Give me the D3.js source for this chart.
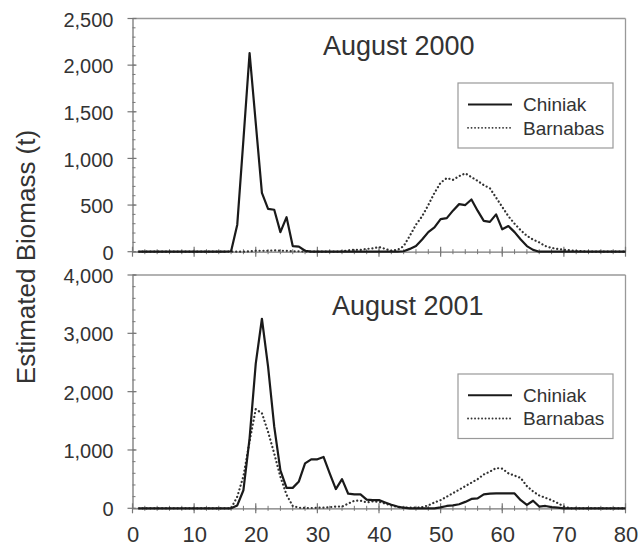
<!DOCTYPE html>
<html><head><meta charset="utf-8">
<script src="https://cdnjs.cloudflare.com/ajax/libs/d3/7.8.5/d3.min.js"></script>
<style>body{margin:0;background:#fff}svg{display:block}text{font-family:"Liberation Sans",Arial,sans-serif;fill:#333}</style>
</head><body><svg id="c" width="638" height="548"></svg>
<script>
// x positions (cm) 1..80
const lengths = d3.range(1, 81);
const xTicks = [0,10,20,30,40,50,60,70,80];
const topYTicks = [0,500,1000,1500,2000,2500];
const botYTicks = [0,1000,2000,3000,4000];
const seriesNames = ["Chiniak","Barnabas"];
const titles = ["August 2000","August 2001"];

const chiniak2000 = [0,0,0,0,0,0,0,0,0,0, 0,0,0,0,0,5,290,1200,2130,1380,
  630,460,450,210,370,60,55,10,0,0, 0,0,0,0,0,0,0,0,0,0,
  0,0,0,5,30,60,130,210,260,350, 360,440,510,500,560,440,330,320,400,240,
  275,210,130,60,20,0,0,0,0,0, 0,0,0,0,0,0,0,0,0,0];
const barnabas2000 = [0,0,0,0,0,0,0,0,0,0, 0,0,0,0,0,0,0,0,5,10,
  10,10,15,10,10,5,5,0,0,0, 0,0,0,5,15,20,20,30,35,50,
  30,10,20,60,170,290,380,500,630,740, 790,770,810,840,800,760,714,680,580,480,
  380,300,230,170,130,100,60,40,30,20, 15,10,5,0,0,0,0,0,0,0];
const chiniak2001 = [0,0,0,0,0,0,0,0,0,0, 0,0,0,0,0,0,50,310,1200,2480,
  3250,2430,1400,650,350,350,460,770,840,840, 880,600,330,500,250,240,240,150,140,140,
  100,60,30,10,0,0,0,0,0,15, 40,50,70,110,160,170,240,250,255,255,
  255,255,140,60,130,30,40,20,10,0, 0,0,0,0,0,0,0,0,0,0];
const barnabas2001 = [0,0,0,0,0,0,0,0,0,0, 0,0,0,0,0,0,200,550,1150,1700,
  1630,1310,940,540,230,40,10,5,5,10, 10,20,30,30,80,130,130,100,120,110,
  80,50,20,10,10,10,20,50,100,140, 200,260,320,380,440,500,580,630,690,680,
  600,560,520,380,290,220,180,140,90,30, 0,0,0,0,0,0,0,0,0,0];

const svg = d3.select("#c");
const x = d3.scaleLinear().domain([0,80]).range([132.5, 625.5]);
const panels = [
  {y: d3.scaleLinear().domain([0,2500]).range([251.7,18.5]), ticks: topYTicks, minor: d3.range(0,2501,100),
   data:[chiniak2000, barnabas2000], title: titles[0], tx:323, ty:55, leg:{y0:83,y1:148}, labels:false},
  {y: d3.scaleLinear().domain([0,4000]).range([508.3,275]), ticks: botYTicks, minor: d3.range(0,4001,200),
   data:[chiniak2001, barnabas2001], title: titles[1], tx:332, ty:315, leg:{y0:374,y1:438.5}, labels:true}
];
const fmt = d3.format(",");
const axisCol = "#777", frameCol = "#999";

panels.forEach(p => {
  const g = svg.append("g");
  const [yb, yt] = p.y.range();
  // frame top & right
  g.append("line").attr("x1",x(0)).attr("x2",x(80)).attr("y1",yt).attr("y2",yt).attr("stroke",frameCol).attr("stroke-width",1.3);
  g.append("line").attr("x1",x(80)).attr("x2",x(80)).attr("y1",yt).attr("y2",yb).attr("stroke",frameCol).attr("stroke-width",1.3);
  // y axis
  const ya = d3.axisLeft(p.y).tickValues(p.ticks).tickFormat(fmt).tickSize(0).tickPadding(19);
  const yg = g.append("g").attr("transform",`translate(${x(0)},0)`).call(ya);
  yg.select(".domain").attr("stroke",axisCol).attr("stroke-width",1.3);
  yg.selectAll("text").attr("font-size",20).attr("fill","#333").attr("dy","0.38em");
  g.selectAll(".ymaj").data(p.ticks).enter().append("line")
    .attr("x1",x(0)-5).attr("x2",x(0)+4).attr("y1",d=>p.y(d)).attr("y2",d=>p.y(d)).attr("stroke",axisCol).attr("stroke-width",1.2);
  g.selectAll(".ymin").data(p.minor).enter().append("line")
    .attr("x1",x(0)).attr("x2",x(0)+3).attr("y1",d=>p.y(d)).attr("y2",d=>p.y(d)).attr("stroke",axisCol).attr("stroke-width",1);
  // x axis
  const xa = d3.axisBottom(x).tickValues(xTicks).tickSize(0).tickPadding(18).tickFormat(p.labels ? d3.format("d") : () => "");
  const xg = g.append("g").attr("transform",`translate(0,${yb})`).call(xa);
  xg.select(".domain").attr("stroke",axisCol).attr("stroke-width",1.3);
  xg.selectAll("text").attr("font-size",22).attr("fill","#333");
  g.selectAll(".xmaj").data(xTicks).enter().append("line")
    .attr("x1",d=>x(d)).attr("x2",d=>x(d)).attr("y1",yb-5).attr("y2",yb+5).attr("stroke",axisCol).attr("stroke-width",1.2);
  g.selectAll(".xmin").data(d3.range(0,81,2)).enter().append("line")
    .attr("x1",d=>x(d)).attr("x2",d=>x(d)).attr("y1",yb-2.5).attr("y2",yb+2.5).attr("stroke",axisCol).attr("stroke-width",1);
  // lines
  const line = d3.line().x((d,i)=>x(lengths[i])).y(d=>p.y(d));
  g.append("path").datum(p.data[1]).attr("d",line).attr("fill","none").attr("stroke","#333")
    .attr("stroke-width",2.2).attr("stroke-dasharray","0.1,3.8").attr("stroke-linecap","round");
  g.append("path").datum(p.data[0]).attr("d",line).attr("fill","none").attr("stroke","#1a1a1a")
    .attr("stroke-width",2.2).attr("stroke-linejoin","round");
  // title
  g.append("text").attr("x",p.tx).attr("y",p.ty).attr("font-size",27).text(p.title);
  // legend
  const L = p.leg;
  g.append("rect").attr("x",458).attr("y",L.y0).attr("width",155).attr("height",L.y1-L.y0)
    .attr("fill","#fff").attr("stroke","#999").attr("stroke-width",1.2);
  const r1 = L.y0 + (L.y1-L.y0)*0.33, r2 = L.y0 + (L.y1-L.y0)*0.69;
  g.append("line").attr("x1",468).attr("x2",512).attr("y1",r1).attr("y2",r1).attr("stroke","#1a1a1a").attr("stroke-width",2);
  g.append("line").attr("x1",468).attr("x2",512).attr("y1",r2).attr("y2",r2).attr("stroke","#333")
    .attr("stroke-width",1.8).attr("stroke-dasharray","0.1,3.4").attr("stroke-linecap","round");
  g.append("text").attr("x",523).attr("y",r1).attr("dy","0.36em").attr("font-size",19).text(seriesNames[0]);
  g.append("text").attr("x",523).attr("y",r2).attr("dy","0.36em").attr("font-size",19).text(seriesNames[1]);
});

svg.append("text").attr("transform","translate(35,257) rotate(-90)").attr("text-anchor","middle")
  .attr("font-size",26).text("Estimated Biomass (t)");
</script></body></html>
